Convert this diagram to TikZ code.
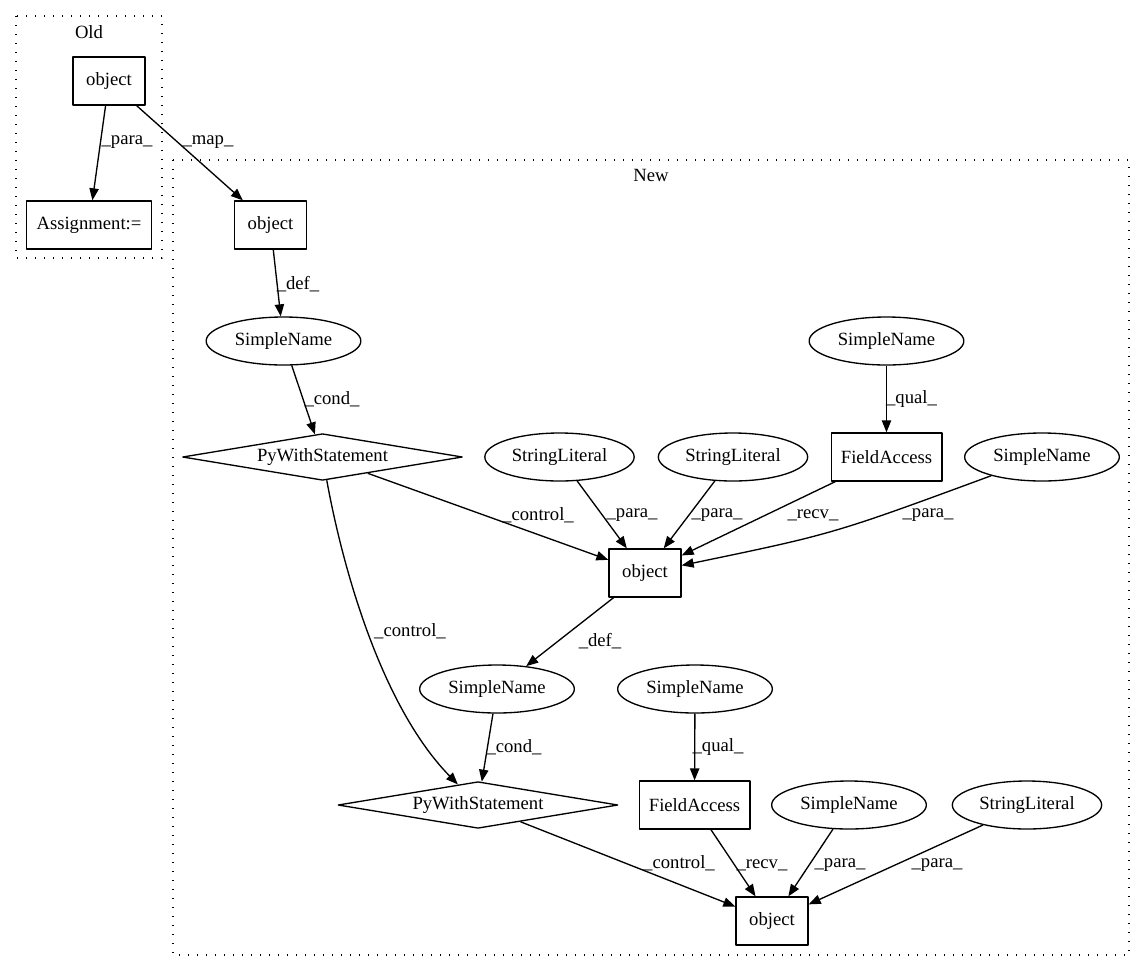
\documentclass[tikz,border=0pt]{standalone}
\usepackage{fontspec}
\setmainfont{Liberation Serif}
\usetikzlibrary{shapes.geometric,arrows.meta}

\begin{document}
\begin{tikzpicture}[x=0.75pt,y=-0.75pt,line width=1pt,line join=round,
  font=\fontsize{14}{17}\selectfont,>={Triangle[length=9pt,width=7pt]},
  box/.style={draw,rectangle,inner sep=0pt,minimum width=54pt,minimum height=36pt},
  oval/.style={draw,ellipse,inner sep=0pt,minimum width=116pt,minimum height=36pt},
  diam/.style={draw,diamond,aspect=5.8,inner sep=0pt,minimum width=210pt,minimum height=35pt},
  lbl/.style={inner sep=0pt},
  cluster/.style={dash pattern=on 1pt off 5.75pt}]
		\useasboundingbox (0,0) rectangle (1147,972);
		% clusters
		\draw[cluster] (16,16) rectangle (162,258);
		\node[lbl] (oldlbl) at (89,32) {Old};
		\draw[cluster] (173,160) rectangle (1129,955);
		\node[lbl] (newlbl) at (651,175) {New};
		% old
		\node[box] (o1) at (109,81) {object};
		\node[box,minimum width=94pt] (asg) at (89,225) {Assignment:=};
		% new
		\node[box] (n1) at (270.5,225) {object};
		\node[oval] (sn1) at (283.5,341) {SimpleName};
		\node[diam] (pw1) at (322.5,457) {PyWithStatement};
		\node[oval,minimum width=112pt] (sl1) at (559.5,457) {StringLiteral};
		\node[oval,minimum width=112pt] (sl2) at (733,457) {StringLiteral};
		\node[oval] (sn2) at (886.5,341) {SimpleName};
		\node[box,minimum width=83pt] (fa1) at (886.5,457) {FieldAccess};
		\node[oval] (sn3) at (1042,457) {SimpleName};
		\node[box] (n2) at (645,573) {object};
		\node[oval] (sn4) at (497,689) {SimpleName};
		\node[oval] (sn5) at (695,689) {SimpleName};
		\node[diam] (pw2) at (478,805) {PyWithStatement};
		\node[box,minimum width=83pt] (fa2) at (694.5,805) {FieldAccess};
		\node[oval] (sn6) at (849,805) {SimpleName};
		\node[oval,minimum width=112pt] (sl3) at (1027,805) {StringLiteral};
		\node[box] (n3) at (772,921) {object};
		% edges
		\draw[->] (o1)--(asg) node[lbl] at (127,142) {\_para\_};
		\draw[->] (o1)--(n1) node[lbl] at (208,142) {\_map\_};
		\draw[->] (n1)--(sn1) node[lbl] at (298,284) {\_def\_};
		\draw[->] (sn1)--(pw1) node[lbl] at (332,399) {\_cond\_};
		\draw[->] (pw1)--(n2) node[lbl] at (538,515) {\_control\_};
		\draw[->] (sl1)--(n2) node[lbl] at (632,515) {\_para\_};
		\draw[->] (sl2)--(n2) node[lbl] at (717,515) {\_para\_};
		\draw[->] (sn2)--(fa1) node[lbl] at (911.5,399) {\_qual\_};
		\draw[->] (fa1)--(n2) node[lbl] at (813,515) {\_recv\_};
		\draw[->] (sn3) .. controls (833,534) .. (n2) node[lbl] at (928,515) {\_para\_};
		\draw[->] (pw1) .. controls (345,580) and (385,710) .. (pw2) node[lbl] at (410,631) {\_control\_};
		\draw[->] (n2)--(sn4) node[lbl] at (600,641) {\_def\_};
		\draw[->] (sn4)--(pw2) node[lbl] at (514,747) {\_cond\_};
		\draw[->] (sn5)--(fa2) node[lbl] at (718,747) {\_qual\_};
		\draw[->] (pw2)--(n3) node[lbl] at (679,863) {\_control\_};
		\draw[->] (fa2)--(n3) node[lbl] at (762,865) {\_recv\_};
		\draw[->] (sn6)--(n3) node[lbl] at (840,865) {\_para\_};
		\draw[->] (sl3)--(n3) node[lbl] at (937,865) {\_para\_};
\end{tikzpicture}
\end{document}
